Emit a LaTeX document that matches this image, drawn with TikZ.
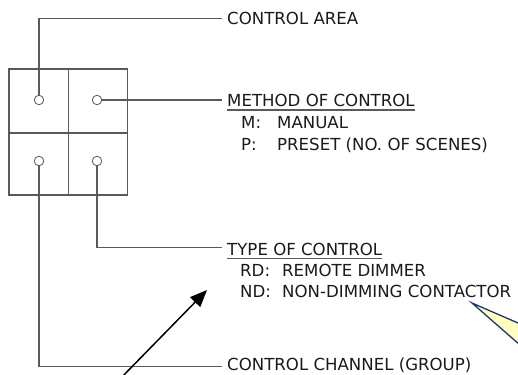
\documentclass[tikz,border=0pt]{standalone}
\usepackage{fontspec}
\setmainfont{DejaVu Sans}
\usetikzlibrary{arrows.meta}
\definecolor{linegray}{HTML}{5A5A5A}
\definecolor{txt}{HTML}{1A1A1A}
\definecolor{callfill}{HTML}{FFFFC0}
\definecolor{callline}{HTML}{1F3475}
\begin{document}
\begin{tikzpicture}[x=1pt,y=-1pt,
  wire/.style={draw=linegray,line width=1.1pt},
  dot/.style={circle,draw=linegray,line width=0.8pt,minimum size=9.5pt,inner sep=0pt},
  lbl/.style={anchor=base west,inner sep=0pt,text=txt,font=\fontsize{16.6}{20}\selectfont},
  under/.style={draw=linegray,line width=1.1pt}]
\useasboundingbox (0,0) rectangle (518,374);
% panel
\draw[wire] (9,69) rectangle (127.5,195);
\draw[wire] (68.5,69) -- (68.5,195);
\draw[wire] (9,133) -- (127.5,133);
\node[dot] (c1) at (39,100) {};
\node[dot] (c2) at (97,100) {};
\node[dot] (c3) at (39,161) {};
\node[dot] (c4) at (97,161) {};
% labels
\node[lbl] (ca) at (227,25) {CONTROL AREA};
\node[lbl] (mc) at (227,107) {METHOD OF CONTROL};
\node[lbl] (mm) at (241,128.5) {\makebox[36pt][l]{M:}MANUAL};
\node[lbl] (mp) at (241,150) {\makebox[36pt][l]{P:}PRESET (NO. OF SCENES)};
\node[lbl] (tc) at (227,255.5) {TYPE OF CONTROL};
\node[lbl] (rd) at (240,276) {\makebox[42pt][l]{RD:}REMOTE DIMMER};
\node[lbl] (nd) at (240,297.5) {\makebox[42pt][l]{ND:}NON-DIMMING CONTACTOR};
\node[lbl] (cc) at (227,370.5) {CONTROL CHANNEL (GROUP)};
% underlines
\draw[under] ([yshift=-3pt]mc.base west) -- ([yshift=-3pt]mc.base east);
\draw[under] ([yshift=-3pt]tc.base west) -- ([yshift=-3pt]tc.base east);
% connector ends
\coordinate (ca-in) at (222,18.3);
\coordinate (mc-in) at (222,100);
\coordinate (tc-in) at (222,247.3);
\coordinate (cc-in) at (222,366.7);
\draw[wire] (c1.north) |- (ca-in);
\draw[wire] (c2.east) -- (mc-in);
\draw[wire] (c4.south) |- (tc-in);
\draw[wire] (c3.south) |- (cc-in);
% arrow and callout
\begin{scope}
\clip (0,0) rectangle (518,374);
\coordinate (arr-tail) at (118,381);
\coordinate (arr-tip) at (207,290);
\draw[line width=1.5pt,-{Triangle[length=17pt,width=14pt]}] (arr-tail) -- (arr-tip);
\coordinate (wtip) at (472,303);
\draw[fill=callfill,draw=callline,line width=1.3pt,line join=miter]
  (wtip) -- (541,333) -- (536,359) -- cycle;
\end{scope}
\end{tikzpicture}
\end{document}
